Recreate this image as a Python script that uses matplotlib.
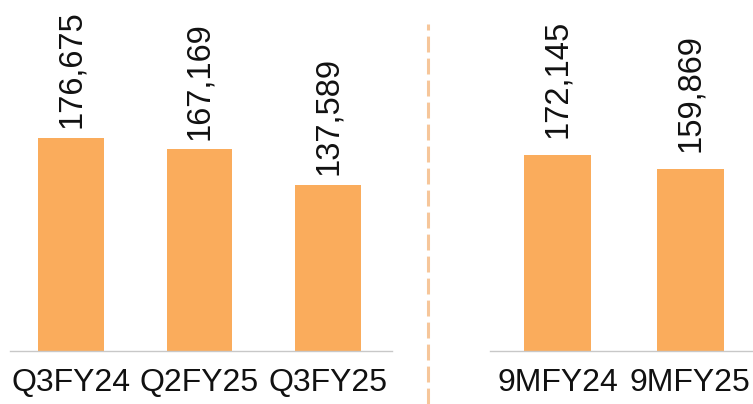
import matplotlib.pyplot as plt
from matplotlib.lines import Line2D

plt.rcParams['font.family'] = ['Liberation Sans', 'DejaVu Sans']

quarter_labels = ['Q3FY24', 'Q2FY25', 'Q3FY25']
quarter_values = [176675, 167169, 137589]
nine_month_labels = ['9MFY24', '9MFY25']
nine_month_values = [172145, 159869]

BAR_COLOR = '#FAAC5C'
DIVIDER_COLOR = '#F6C69A'
BASE_COLOR = '#C8C8C8'

fig = plt.figure(figsize=(7.53, 4.04), dpi=100)

W, H = 753, 404
base_y = (H - 351) / H


def draw_panel(left_px, right_px, labels, values, xlim, ymax, width, label_offset):
    ax = fig.add_axes([left_px / W, base_y, (right_px - left_px) / W, 1 - base_y])
    xs = list(range(len(values)))
    ax.bar(xs, values, width=width, color=BAR_COLOR, zorder=2)
    for x, v in zip(xs, values):
        ax.annotate(f'{v:,}', xy=(x, v), xytext=(0, label_offset),
                    textcoords='offset points', rotation=90,
                    ha='center', va='bottom', fontsize=23.5, color='#111111')
    ax.set_xlim(*xlim)
    ax.set_ylim(0, ymax)
    ax.set_xticks(xs)
    ax.set_xticklabels(labels, fontsize=23, color='#111111')
    ax.tick_params(axis='x', length=0, pad=12.5)
    ax.set_yticks([])
    for side in ('top', 'left', 'right'):
        ax.spines[side].set_visible(False)
    ax.spines['bottom'].set_color(BASE_COLOR)
    ax.spines['bottom'].set_linewidth(1.0)
    ax.patch.set_alpha(0)
    return ax


draw_panel(10, 392, quarter_labels, quarter_values,
           xlim=(-0.475, 2.498), ymax=291000, width=0.51, label_offset=7)
draw_panel(490, 753, nine_month_labels, nine_month_values,
           xlim=(-0.51, 1.475), ymax=308200, width=0.505, label_offset=12)

# dashed divider between the two panels
divider = Line2D([428 / W, 428 / W], [0, (H - 24) / H], transform=fig.transFigure,
                 color=DIVIDER_COLOR, linewidth=2.2, linestyle=(0, (5.2, 2.0)))
fig.add_artist(divider)

fig.savefig('out.png', dpi=100)
